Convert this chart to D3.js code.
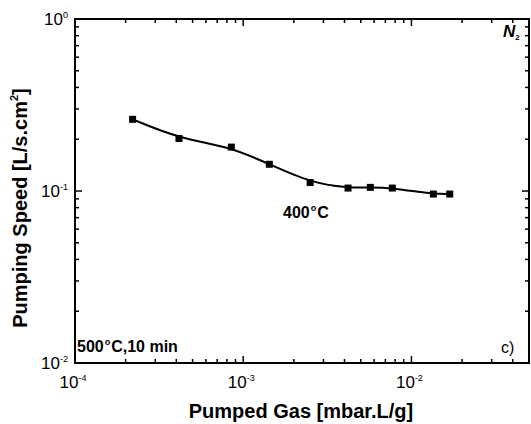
<!DOCTYPE html>
<html>
<head>
<meta charset="utf-8">
<script src="https://cdn.jsdelivr.net/npm/d3@7"></script>
<style>
  body { margin: 0; background: #fff; }
  text { font-family: "Liberation Sans", Arial, sans-serif; fill: #000; }
</style>
</head>
<body>
<div id="chart"></div>
<script>
// data (log-log)
var pumpedGas = [2.2e-4, 4.15e-4, 8.5e-4, 1.43e-3, 2.5e-3, 4.2e-3, 5.7e-3, 7.7e-3, 1.35e-2, 1.69e-2];
var pumpingSpeed = [0.261, 0.202, 0.180, 0.143, 0.112, 0.104, 0.105, 0.104, 0.096, 0.096];
var xTickValues = [1e-4, 1e-3, 1e-2];
var xTickLabels = ["-4", "-3", "-2"];
var yTickValues = [1, 0.1, 0.01];
var yTickLabels = ["0", "-1", "-2"];

var width = 531;
var height = 424;

// plot box
var margin = { top: 19, right: 1, bottom: 61, left: 75 };

var svg = d3
  .select("#chart")
  .append("svg")
  .attr("width", width)
  .attr("height", height);

var x = d3.scaleLog()
  .domain([1e-4, 5e-2])
  .range([margin.left, width - margin.right - 1]);

var y = d3.scaleLog()
  .domain([1e-2, 1])
  .range([height - margin.bottom, margin.top]);

// minor ticks for every decade
function minorTicks(lo, hi) {
  var out = [];
  for (var e = Math.floor(Math.log10(lo)); e <= Math.ceil(Math.log10(hi)); e++) {
    for (var m = 1; m < 10; m++) {
      var v = m * Math.pow(10, e);
      if (v >= lo * 0.999 && v <= hi * 1.001) out.push(v);
    }
  }
  return out;
}
var xMinor = minorTicks(1e-4, 5e-2);
var yMinor = minorTicks(1e-2, 1);

function isMajor(v) {
  var l = Math.log10(v);
  return Math.abs(l - Math.round(l)) < 1e-6;
}

var x0 = x.range()[0], x1 = x.range()[1];
var y0 = y.range()[0], y1 = y.range()[1];

// frame
svg.append("rect")
  .attr("x", x0)
  .attr("y", y1)
  .attr("width", x1 - x0)
  .attr("height", y0 - y1)
  .attr("fill", "none")
  .attr("stroke", "#000")
  .attr("stroke-width", 2);

// inward ticks on all four sides
var ticks = svg.append("g").attr("stroke", "#000").attr("stroke-width", 1.5);
xMinor.forEach(function (v) {
  var len = isMajor(v) ? 7 : 4;
  ticks.append("line").attr("x1", x(v)).attr("x2", x(v)).attr("y1", y0).attr("y2", y0 - len);
  ticks.append("line").attr("x1", x(v)).attr("x2", x(v)).attr("y1", y1).attr("y2", y1 + len);
});
yMinor.forEach(function (v) {
  var len = isMajor(v) ? 7 : 4;
  ticks.append("line").attr("y1", y(v)).attr("y2", y(v)).attr("x1", x0).attr("x2", x0 + len);
  ticks.append("line").attr("y1", y(v)).attr("y2", y(v)).attr("x1", x1).attr("x2", x1 - len);
});

// tick labels 10^n
var xl = svg.append("g").attr("font-size", 17);
xTickValues.forEach(function (v, i) {
  var t = xl.append("text")
    .attr("x", x(v) - 2)
    .attr("y", y0 + 25)
    .attr("text-anchor", "middle");
  t.append("tspan").text("10");
  t.append("tspan").attr("dy", -7).attr("font-size", 9).text(xTickLabels[i]);
});

var yl = svg.append("g").attr("font-size", 17);
yTickValues.forEach(function (v, i) {
  var t = yl.append("text")
    .attr("x", x0 - 7)
    .attr("y", y(v) + 6)
    .attr("text-anchor", "end");
  t.append("tspan").text("10");
  t.append("tspan").attr("dy", -7).attr("font-size", 9).text(yTickLabels[i]);
});

// axis titles
svg.append("text")
  .attr("x", 301)
  .attr("y", 418)
  .attr("text-anchor", "middle")
  .attr("font-size", 20)
  .attr("font-weight", "bold")
  .text("Pumped Gas [mbar.L/g]");

var yt = svg.append("text")
  .attr("transform", "translate(27," + 208 + ")rotate(-90)")
  .attr("text-anchor", "middle")
  .attr("font-size", 20)
  .attr("font-weight", "bold");
yt.append("tspan").text("Pumping Speed [L/s.cm");
yt.append("tspan").attr("dy", -9).attr("font-size", 11).text("2");
yt.append("tspan").attr("dy", 9).text("]");

// curve + markers
var pts = pumpedGas.map(function (d, i) { return [d, pumpingSpeed[i]]; });

var line = d3.line()
  .x(function (d) { return x(d[0]); })
  .y(function (d) { return y(d[1]); })
  .curve(d3.curveBasis);

svg.append("path")
  .datum(pts)
  .attr("d", line)
  .attr("fill", "none")
  .attr("stroke", "#000")
  .attr("stroke-width", 2);

svg.selectAll(".pt")
  .data(pts)
  .enter()
  .append("rect")
  .attr("class", "pt")
  .attr("x", function (d) { return x(d[0]) - 3.5; })
  .attr("y", function (d) { return y(d[1]) - 3.5; })
  .attr("width", 7)
  .attr("height", 7)
  .attr("fill", "#000");

// annotations
var ann = svg.append("g").attr("font-weight", "bold");

var n2 = ann.append("text").attr("x", 503).attr("y", 37).attr("font-size", 17).attr("font-style", "italic");
n2.append("tspan").text("N");
n2.append("tspan").attr("dy", 3).attr("font-size", 8).attr("font-style", "normal").text("2");

var t400 = ann.append("text").attr("x", 283).attr("y", 218).attr("font-size", 16);
t400.append("tspan").text("400");
t400.append("tspan").attr("dx", 1).attr("dy", -7).attr("font-size", 9).text("o");
t400.append("tspan").attr("dx", 1).attr("dy", 7).text("C");

var t500 = ann.append("text").attr("x", 77).attr("y", 352).attr("font-size", 16);
t500.append("tspan").text("500");
t500.append("tspan").attr("dx", 1).attr("dy", -7).attr("font-size", 9).text("o");
t500.append("tspan").attr("dx", 1).attr("dy", 7).text("C,10 min");

ann.append("text")
  .attr("x", 501)
  .attr("y", 353)
  .attr("font-size", 16)
  .attr("font-weight", "normal")
  .text("c)");
</script>
</body>
</html>
